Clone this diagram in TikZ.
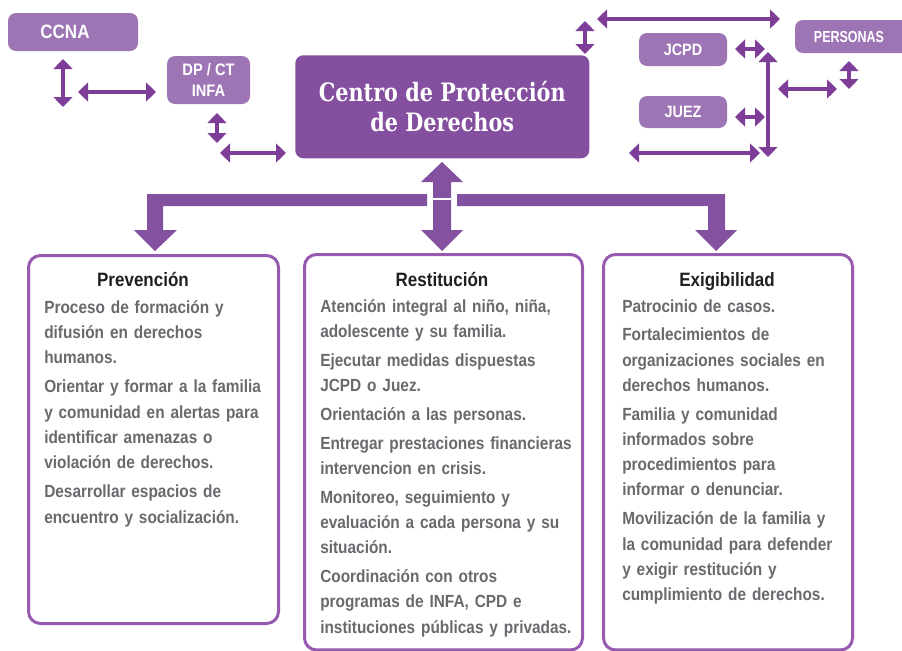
\documentclass[tikz,border=0pt]{standalone}
\usepackage{fontspec}
\setmainfont{Liberation Sans}[FakeStretch=0.875]
\newfontfamily\condfont{Liberation Sans}[FakeStretch=0.88]
\newfontfamily\ccondfont{Liberation Sans}[FakeStretch=0.78]
\newfontfamily\titleserif{DejaVu Serif}[FakeStretch=0.82]
\usetikzlibrary{arrows.meta}
\definecolor{darkP}{RGB}{131,79,158}
\definecolor{lightP}{RGB}{157,117,181}
\definecolor{borderP}{RGB}{150,90,176}
\definecolor{arrowP}{RGB}{126,61,151}
\definecolor{bigP}{RGB}{132,80,160}
\definecolor{titleC}{RGB}{35,31,32}
\definecolor{bodyC}{RGB}{105,106,110}
\tikzset{
 lbox/.style={fill=lightP, rounded corners=6pt, inner sep=0pt, outer sep=0pt, anchor=north west, text=white, align=center, font=\condfont\bfseries},
 panel/.style={draw=borderP, line width=2.25pt, rounded corners=9pt, fill=white, inner sep=0pt, anchor=north west},
 sarrow/.style={draw=arrowP, line width=2.5pt, {Triangle[length=7.5pt,width=14pt]}-{Triangle[length=7.5pt,width=14pt]}},
 body/.style={anchor=base west, inner sep=0pt, text width=210pt, align=left, text=bodyC, font=\bfseries\fontsize{13.2pt}{18.9pt}\selectfont},
 head/.style={anchor=base, inner sep=0pt, text=titleC, font=\condfont\bfseries\fontsize{14.5pt}{17pt}\selectfont},
 bigarrow/.style={fill=bigP, draw=none},
}
\begin{document}
\begin{tikzpicture}[x=0.75pt, y=-0.75pt]
\useasboundingbox (0,0) rectangle (902,650);
\fill[white] (0,0) rectangle (902,650);

% top boxes
\node[lbox, minimum width=97.5pt, minimum height=28.5pt, font=\condfont\bfseries\fontsize{14.5pt}{17pt}\selectfont] (ccna) at (8,13) {CCNA\hspace*{12pt}};
\node[lbox, minimum width=62.25pt, minimum height=36pt, font=\condfont\bfseries\fontsize{12.5pt}{15.75pt}\selectfont] (dpct) at (167,56) {DP / CT\\INFA};
\node[fill=darkP, rounded corners=6pt, inner sep=0pt, anchor=north west, minimum width=220.5pt, minimum height=77.25pt, text=white, align=center, font=\titleserif\bfseries\fontsize{19pt}{22.5pt}\selectfont] (cpd) at (295,55) {Centro de Protección\\de Derechos};
\node[lbox, minimum width=66pt, minimum height=24.75pt, font=\condfont\bfseries\fontsize{12.3pt}{15pt}\selectfont] (jcpd) at (639,33) {JCPD};
\node[lbox, minimum width=66pt, minimum height=24pt, font=\condfont\bfseries\fontsize{12.3pt}{15pt}\selectfont] (juez) at (639,96) {JUEZ};
\node[lbox, minimum width=90pt, minimum height=24.75pt, font=\ccondfont\bfseries\fontsize{12pt}{15pt}\selectfont] (pers) at (795,20) {PERSONAS\hspace*{9pt}};

% small arrow end points
\coordinate (a1s) at (63,59);   \coordinate (a1e) at (63,107);
\coordinate (a2s) at (78,92);   \coordinate (a2e) at (156,92);
\coordinate (a3s) at (217,113); \coordinate (a3e) at (217,143);
\coordinate (a4s) at (220,153); \coordinate (a4e) at (286,153);
\coordinate (a5s) at (597,19);  \coordinate (a5e) at (780,19);
\coordinate (a6s) at (585,21);  \coordinate (a6e) at (585,54);
\coordinate (a7s) at (735,49);  \coordinate (a7e) at (765,49);
\coordinate (a8s) at (735,117); \coordinate (a8e) at (765,117);
\coordinate (a9s) at (768,52);  \coordinate (a9e) at (768,157);
\coordinate (a10s) at (629,153);\coordinate (a10e) at (760,153);
\coordinate (a11s) at (778,89); \coordinate (a11e) at (837,89);
\coordinate (a12s) at (849,61); \coordinate (a12e) at (849,89);
\foreach \i in {1,...,12} {\draw[sarrow] (a\i s) -- (a\i e);}

% panels
\node[panel, minimum width=187.5pt, minimum height=276pt] (prev) at (27,254) {};
\node[panel, minimum width=208.5pt, minimum height=296.6pt] (rest) at (303,253) {};
\node[panel, minimum width=186.75pt, minimum height=296.6pt] (exig) at (602,253) {};

% big arrows
\fill[bigarrow] (147,194) -- (427,194) -- (427,206) -- (163,206) -- (163,230) -- (177,230) -- (155,251) -- (134,230) -- (147,230) -- cycle;
\fill[bigarrow] (457,194) -- (725,194) -- (725,230) -- (737,230) -- (716,251) -- (695,230) -- (708,230) -- (708,206) -- (457,206) -- cycle;
\fill[bigarrow] (442,162) -- (463,182) -- (451,182) -- (451,230) -- (463,230) -- (442,251) -- (421,230) -- (433,230) -- (433,182) -- (421,182) -- cycle;
\draw[white, line width=0.8pt] (433,199) -- (451,199);

% titles
\node[head] (tprev) at (143,286) {Prevención};
\node[head] (trest) at (442,286) {Restitución};
\node[head] (texig) at (727,286) {Exigibilidad};

% texts
\node[body] (bprev) at (44,313) {Proceso de formación y\\ difusión en derechos\\ humanos.\\[3.2pt] Orientar y formar a la familia\\ y comunidad en alertas para\\ identificar amenazas o\\ violación de derechos.\\[3.2pt] Desarrollar espacios de\\ encuentro y socialización.};
\node[body] (brest) at (320,312) {Atención integral al niño, niña,\\ adolescente y su familia.\\[2.8pt] Ejecutar medidas dispuestas\\ JCPD o Juez.\\[2.8pt] Orientación a las personas.\\[2.8pt] Entregar prestaciones financieras\\ intervencion en crisis.\\[2.8pt] Monitoreo, seguimiento y\\ evaluación a cada persona y su\\ situación.\\[2.8pt] Coordinación con otros\\ programas de INFA, CPD e\\ instituciones públicas y privadas.};
\node[body] (bexig) at (622,312) {Patrocinio de casos.\\[2.8pt] Fortalecimientos de\\ organizaciones sociales en\\ derechos humanos.\\[2.8pt] Familia y comunidad\\ informados sobre\\ procedimientos para\\ informar o denunciar.\\[2.8pt] Movilización de la familia y\\ la comunidad para defender\\ y exigir restitución y\\ cumplimiento de derechos.};
\end{tikzpicture}
\end{document}
